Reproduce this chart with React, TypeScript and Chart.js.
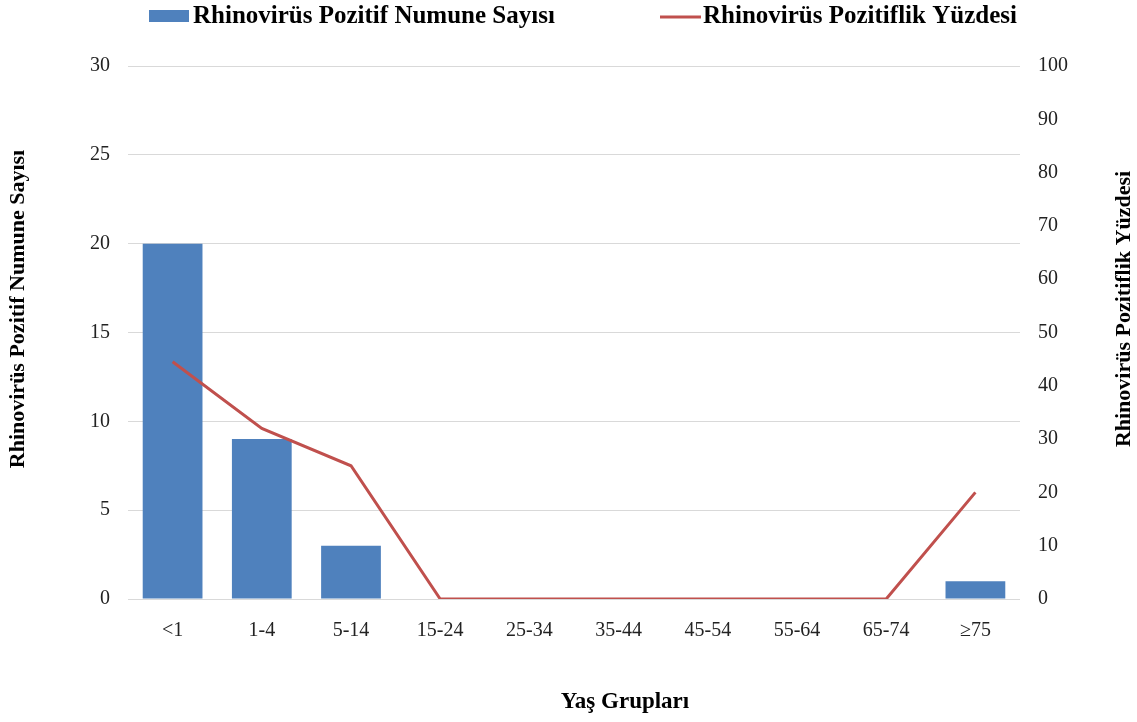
import React, { useEffect, useRef } from "react";
import { Chart, registerables } from "chart.js";

Chart.register(...registerables);

const categories = ["<1", "1-4", "5-14", "15-24", "25-34", "35-44", "45-54", "55-64", "65-74", "≥75"];
const positiveCounts = [20, 9, 3, 0, 0, 0, 0, 0, 0, 1];
const positivityPercent = [44.5, 32, 25, 0, 0, 0, 0, 0, 0, 20];
const countLabel = "Rhinovirüs Pozitif Numune Sayısı";
const percentLabel = "Rhinovirüs Pozitiflik Yüzdesi";
const xTitle = "Yaş Grupları";

const BAR_COLOR = "#4f81bd";
const LINE_COLOR = "#c0504d";
const FONT = "'Liberation Serif', 'Times New Roman', serif";

const decorPlugin = {
  id: "decor",
  afterDraw(chart: any) {
    const ctx = chart.ctx;
    ctx.save();
    // legend
    ctx.font = `bold 25px ${FONT}`;
    ctx.textBaseline = "middle";
    const y = 17;
    ctx.fillStyle = BAR_COLOR;
    ctx.fillRect(149, 10, 40, 12);
    ctx.fillStyle = "#000";
    ctx.fillText(countLabel, 193, y);
    ctx.strokeStyle = LINE_COLOR;
    ctx.lineWidth = 3;
    ctx.beginPath();
    ctx.moveTo(660, y);
    ctx.lineTo(701, y);
    ctx.stroke();
    ctx.fillText(percentLabel, 703, y);
    // x axis title
    ctx.font = `bold 23px ${FONT}`;
    ctx.textAlign = "center";
    ctx.fillText(xTitle, 625, 702);
    // y axis titles (both read bottom to top)
    ctx.font = `bold 22px ${FONT}`;
    const cy = 309;
    ctx.save();
    ctx.translate(18, cy);
    ctx.rotate(-Math.PI / 2);
    ctx.fillText(countLabel, 0, 0);
    ctx.restore();
    ctx.save();
    ctx.translate(1124, cy);
    ctx.rotate(-Math.PI / 2);
    ctx.fillText(percentLabel, 0, 0);
    ctx.restore();
    ctx.restore();
  },
};

export default function App() {
  const ref = useRef<HTMLCanvasElement | null>(null);
  useEffect(() => {
    if (!ref.current) return;
    const chart = new Chart(ref.current, {
      type: "bar",
      data: {
        labels: categories,
        datasets: [
          {
            type: "line",
            label: percentLabel,
            data: positivityPercent,
            yAxisID: "y1",
            borderColor: LINE_COLOR,
            backgroundColor: LINE_COLOR,
            borderWidth: 3,
            pointRadius: 0,
            tension: 0,
            order: 0,
          } as any,
          {
            type: "bar",
            label: countLabel,
            data: positiveCounts,
            yAxisID: "y",
            backgroundColor: BAR_COLOR,
            barPercentage: 0.67,
            categoryPercentage: 1,
            order: 1,
          },
        ],
      },
      options: {
        animation: false,
        responsive: true,
        maintainAspectRatio: false,
        layout: { padding: { top: 66, left: 72, right: 51, bottom: 67 } },
        plugins: {
          legend: { display: false },
          tooltip: { enabled: false },
        },
        scales: {
          x: {
            grid: { display: false },
            border: { display: false },
            ticks: { font: { family: FONT, size: 20 }, color: "#222", padding: 12 },
          },
          y: {
            position: "left",
            min: 0,
            max: 30,
            ticks: { stepSize: 5, font: { family: FONT, size: 20 }, color: "#222", padding: 18 },
            grid: { color: "#d9d9d9", drawTicks: false, lineWidth: 1 },
            border: { display: false },
          },
          y1: {
            position: "right",
            min: 0,
            max: 100,
            ticks: { stepSize: 10, font: { family: FONT, size: 20 }, color: "#222", padding: 18 },
            grid: { display: false, drawTicks: false },
            border: { display: false },
          },
        },
      },
      plugins: [decorPlugin],
    });
    return () => chart.destroy();
  }, []);
  return (
    <div style={{ position: "fixed", left: 0, top: 0, width: "1137px", height: "722px", background: "#fff" }}>
      <canvas ref={ref} />
    </div>
  );
}
